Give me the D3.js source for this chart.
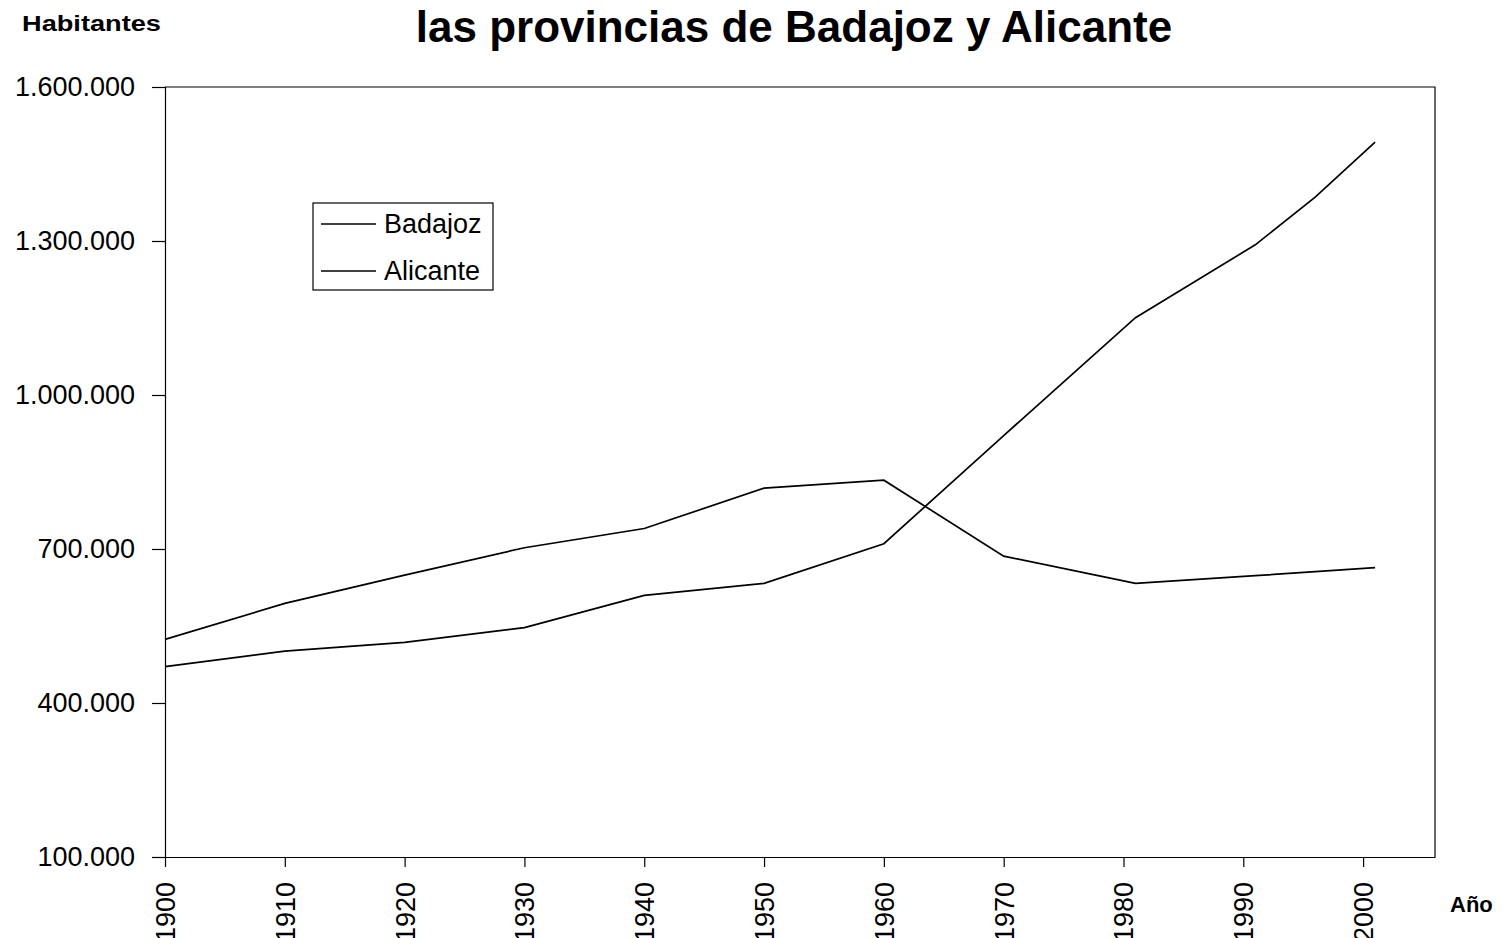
<!DOCTYPE html>
<html>
<head>
<meta charset="utf-8">
<script src="https://cdn.jsdelivr.net/npm/d3@7"></script>
<style>
	body { margin: 0; background: #fff; }
	text { font-family: "Liberation Sans", Arial, sans-serif; fill: #000; }
</style>
</head>
<body>
<div class="chart"></div>
<script>
	// data
	var years = [1900, 1910, 1920, 1930, 1940, 1950, 1960, 1970, 1981, 1991, 1996, 2001];
	var badajoz = [524000, 594000, 649000, 702500, 740000, 818500, 834000, 686000, 633000, 648000, 656000, 663600];
	var alicante = [471000, 501000, 518000, 547000, 609700, 633000, 710300, 921000, 1150600, 1292600, 1385400, 1492400];
	var yTicks = [100000, 400000, 700000, 1000000, 1300000, 1600000];
	var xTicks = [1900, 1910, 1920, 1930, 1940, 1950, 1960, 1970, 1980, 1990, 2000];
	var seriesNames = ["Badajoz", "Alicante"];

	var width = 1506,
		height = 938;
	var margin = {top: 87, right: 71, bottom: 80, left: 165};

	var svg = d3.select(".chart").append("svg")
		.attr("width", width)
		.attr("height", height);

	var x = d3.scaleLinear().domain([1900, 2006]).range([margin.left, width - margin.right]);
	var y = d3.scaleLinear().domain([100000, 1600000]).range([height - margin.bottom - 1, margin.top]);

	var fmt = function(d) { return d3.format(",")(d).replace(/,/g, "."); };

	// plot frame (top and right)
	svg.append("path")
		.attr("d", "M" + x(1900) + "," + y(1600000) + "H" + x(2006) + "V" + y(100000))
		.attr("fill", "none")
		.attr("stroke", "#000")
		.attr("stroke-width", 1.2);

	// y axis
	var yAxis = svg.append("g")
		.attr("transform", "translate(" + x(1900) + ",0)")
		.call(d3.axisLeft(y).tickValues(yTicks).tickFormat(fmt).tickSize(13).tickPadding(17));

	// x axis
	var xAxis = svg.append("g")
		.attr("transform", "translate(0," + y(100000) + ")")
		.call(d3.axisBottom(x).tickValues(xTicks).tickFormat(d3.format("d")).tickSize(10).tickSizeOuter(0));

	svg.selectAll(".domain, .tick line").attr("stroke", "#000").attr("stroke-width", 1.2);
	yAxis.selectAll("text").style("font-size", "27px").attr("fill", "#000");
	xAxis.selectAll("text")
		.style("font-size", "27px")
		.attr("fill", "#000")
		.attr("transform", "rotate(-90)")
		.attr("text-anchor", "end")
		.attr("x", -25)
		.attr("y", 0)
		.attr("dy", "0.35em");

	// lines
	var line = d3.line()
		.x(function(d) { return x(d[0]); })
		.y(function(d) { return y(d[1]); });

	[badajoz, alicante].forEach(function(vals) {
		svg.append("path")
			.datum(years.map(function(yr, i) { return [yr, vals[i]]; }))
			.attr("fill", "none")
			.attr("stroke", "#000")
			.attr("stroke-width", 1.7)
			.attr("d", line);
	});

	// legend
	var legend = svg.append("g").attr("transform", "translate(313,203)");
	legend.append("rect")
		.attr("width", 180)
		.attr("height", 87)
		.attr("fill", "#fff")
		.attr("stroke", "#000")
		.attr("stroke-width", 1.2);
	legend.selectAll(".item")
		.data(seriesNames).enter()
		.append("g")
		.attr("transform", function(d, i) { return "translate(0," + (21 + 47 * i) + ")"; })
		.each(function(d) {
			var g = d3.select(this);
			g.append("line").attr("x1", 8).attr("x2", 63).attr("stroke", "#000").attr("stroke-width", 1.4);
			g.append("text").attr("x", 71).attr("dy", "0.35em").style("font-size", "27px").text(d);
		});

	// titles
	svg.append("text")
		.attr("x", 794)
		.attr("y", 42)
		.attr("text-anchor", "middle")
		.style("font-size", "44px")
		.style("font-weight", "bold")
		.text("las provincias de Badajoz y Alicante");

	svg.append("text")
		.attr("x", 22)
		.attr("y", 31)
		.attr("textLength", 139)
		.attr("lengthAdjust", "spacingAndGlyphs")
		.style("font-size", "22px")
		.style("font-weight", "bold")
		.text("Habitantes");

	svg.append("text")
		.attr("x", 1450)
		.attr("y", 912)
		.style("font-size", "22px")
		.style("font-weight", "bold")
		.text("Año");
</script>
</body>
</html>
